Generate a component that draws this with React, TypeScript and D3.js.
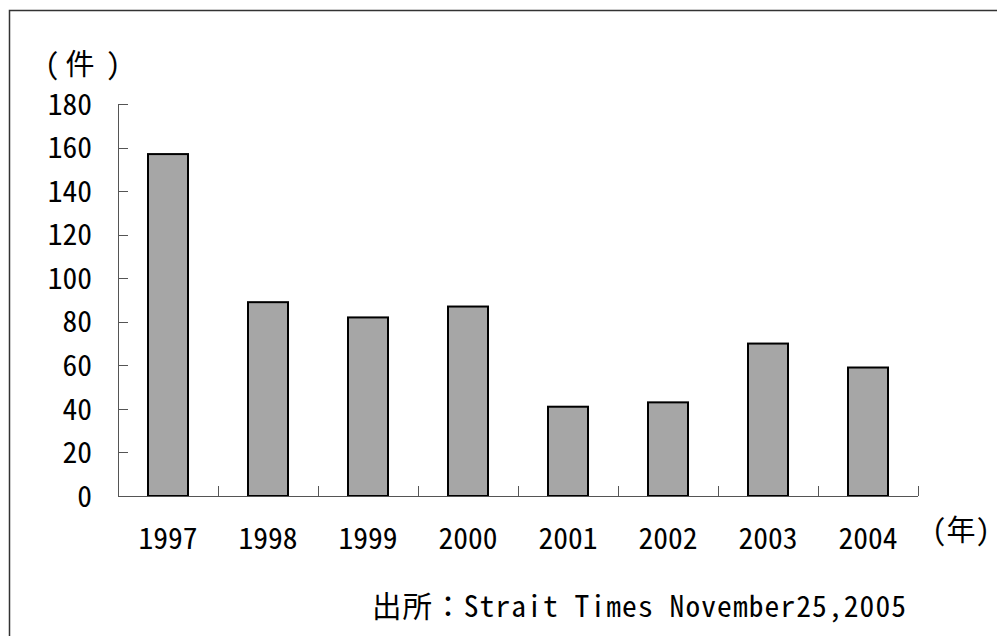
import React, { useRef, useEffect } from 'react';
import * as d3 from 'd3';

const years = ['1997', '1998', '1999', '2000', '2001', '2002', '2003', '2004'];
const counts = [157, 89, 82, 87, 41, 43, 70, 59];
const yTicks = [0, 20, 40, 60, 80, 100, 120, 140, 160, 180];
const yUnit = '件';
const xUnit = '(年)';
const sourceNote = '出所：Strait Times November25,2005';

const FONT = "'Noto Sans Mono CJK JP', 'DejaVu Sans Mono', 'Noto Sans CJK JP', monospace";

export default function App() {
  const ref = useRef<SVGSVGElement>(null);

  useEffect(() => {
    const svg = d3.select(ref.current);
    svg.selectAll('*').remove();

    const width = 997;
    const height = 636;
    svg.attr('width', width).attr('height', height);

    // outer frame (only top and left are visible)
    svg.append('rect')
      .attr('x', 9.5).attr('y', 10.5)
      .attr('width', 1200).attr('height', 1000)
      .attr('fill', 'white')
      .attr('stroke', '#333')
      .attr('stroke-width', 1.5);

    const x = d3.scaleBand<string>()
      .domain(years)
      .range([118, 918])
      .paddingInner(0.6)
      .paddingOuter(0.3);

    const y = d3.scaleLinear().domain([0, 180]).range([496, 104]);
    const step = x.step();
    const x0 = x.range()[0];
    const x1 = x.range()[1];

    const axisColor = '#555';

    // bars
    svg.append('g')
      .selectAll('rect')
      .data(counts)
      .join('rect')
        .attr('x', (d, i) => x(years[i])!)
        .attr('y', d => y(d))
        .attr('width', x.bandwidth())
        .attr('height', d => y(0) - y(d))
        .attr('fill', '#a6a6a6')
        .attr('stroke', '#000')
        .attr('stroke-width', 2);

    // y axis
    const ya = svg.append('g');
    ya.append('line')
      .attr('x1', x0 + 0.5).attr('x2', x0 + 0.5)
      .attr('y1', y(180)).attr('y2', y(0))
      .attr('stroke', axisColor);
    ya.selectAll('line.tick')
      .data(yTicks)
      .join('line')
        .attr('class', 'tick')
        .attr('x1', x0).attr('x2', x0 + 10)
        .attr('y1', d => Math.round(y(d)) + 0.5)
        .attr('y2', d => Math.round(y(d)) + 0.5)
        .attr('stroke', axisColor);
    ya.selectAll('text')
      .data(yTicks)
      .join('text')
        .attr('x', 92)
        .attr('y', d => y(d))
        .attr('dy', '0.36em')
        .attr('text-anchor', 'end')
        .style('font-family', FONT)
        .style('font-size', '29.5px')
        .text(d => d);

    // x axis
    const xa = svg.append('g');
    xa.append('line')
      .attr('x1', x0).attr('x2', x1)
      .attr('y1', y(0) + 0.5).attr('y2', y(0) + 0.5)
      .attr('stroke', axisColor);
    xa.selectAll('line.tick')
      .data(years)
      .join('line')
        .attr('class', 'tick')
        .attr('x1', d => x(d)! - step * 0.3 + step + 0.5)
        .attr('x2', d => x(d)! - step * 0.3 + step + 0.5)
        .attr('y1', y(0) - 10).attr('y2', y(0))
        .attr('stroke', axisColor);
    xa.selectAll('text')
      .data(years)
      .join('text')
        .attr('x', d => x(d)! + x.bandwidth() / 2)
        .attr('y', 538)
        .attr('dy', '0.36em')
        .attr('text-anchor', 'middle')
        .style('font-family', FONT)
        .style('font-size', '29.5px')
        .text(d => d);

    // units: y unit with wide full-width parentheses
    const yu = svg.append('text')
      .attr('y', 65)
      .attr('dy', '0.36em')
      .style('font-family', FONT)
      .style('font-size', '29px');
    yu.append('tspan').attr('x', 45).text('(');
    yu.append('tspan').attr('x', 80).attr('text-anchor', 'middle').text(yUnit);
    yu.append('tspan').attr('x', 106).text(')');

    svg.append('text')
      .attr('x', 932).attr('y', 531)
      .attr('dy', '0.36em')
      .style('font-family', FONT)
      .style('font-size', '29px')
      .text(xUnit);

    // source
    svg.append('text')
      .attr('x', 372).attr('y', 606)
      .attr('dy', '0.36em')
      .attr('textLength', 534)
      .attr('lengthAdjust', 'spacing')
      .style('font-family', FONT)
      .style('font-size', '29.5px')
      .text(sourceNote);
  }, []);

  return <svg ref={ref} style={{ position: 'absolute', left: 0, top: 0 }} />;
}
